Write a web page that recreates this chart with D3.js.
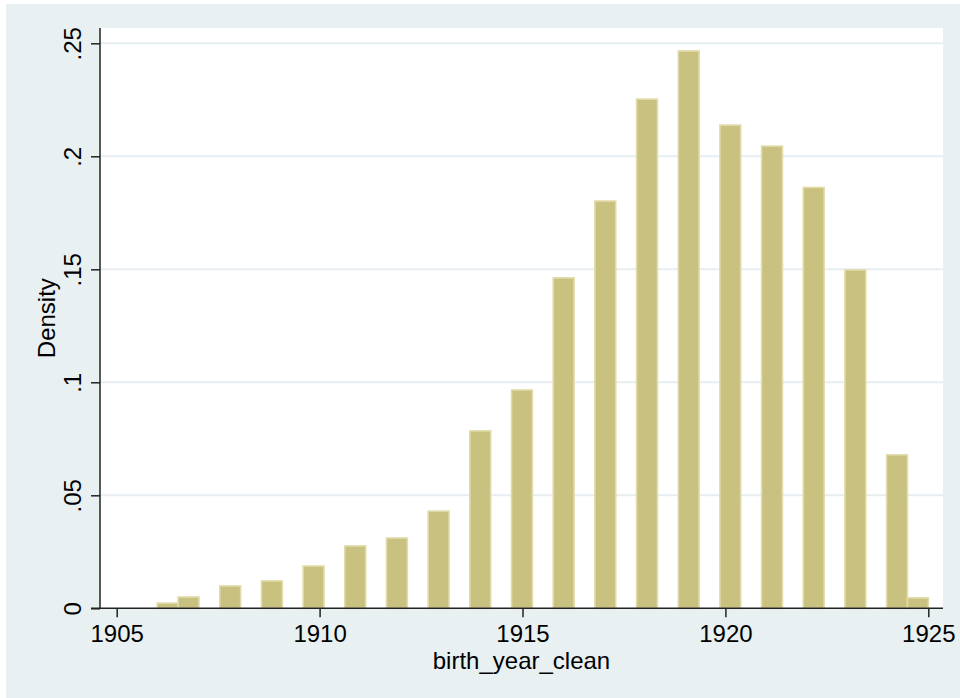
<!DOCTYPE html>
<html>
<head>
<meta charset="utf-8">
<script src="https://cdn.jsdelivr.net/npm/d3@7"></script>
<style>
  html, body { margin: 0; padding: 0; background: #ffffff; }
  svg { display: block; }
  text { font-family: "Liberation Sans", Arial, Helvetica, sans-serif; fill: #000; }
</style>
</head>
<body>
<svg id="chart" width="960" height="698"></svg>
<script>
// Birth years present in the data and the histogram density of each one's bin
const years = [1906, 1907, 1908, 1909, 1910, 1911, 1912, 1913, 1914, 1915,
               1916, 1917, 1918, 1919, 1920, 1921, 1922, 1923, 1924, 1925];
const density = [0.0023, 0.0050, 0.0099, 0.0121, 0.0187, 0.0276, 0.0311, 0.0430, 0.0785, 0.0966,
                 0.1462, 0.1802, 0.2253, 0.2466, 0.2138, 0.2045, 0.1862, 0.1497, 0.0679, 0.0046];

// Histogram bins: 37 equal-width bins spanning the observed range
const binStart = 1906;
const binEnd = 1925;
const binCount = 37;

// Axis ticks
const xTicks = [1905, 1910, 1915, 1920, 1925];
const yTicks = [0, 0.05, 0.1, 0.15, 0.2, 0.25];
const yTickLabels = ["0", ".05", ".1", ".15", ".2", ".25"];

const svg = d3.select("#chart");

const plot = { left: 100, right: 943, top: 28, bottom: 608.3 };
const fontSize = 24;

const x = d3.scaleLinear().domain([1905, 1925]).range([116.7, 928.3]);
const y = d3.scaleLinear().domain([0, 0.25]).range([608.3, 43.3]);

// Graph region background
svg.append("rect")
  .attr("x", 6).attr("y", 4)
  .attr("width", 960 - 6).attr("height", 698 - 4)
  .attr("fill", "#e8f0f2");

// Plot region
svg.append("rect")
  .attr("x", plot.left).attr("y", plot.top)
  .attr("width", plot.right - plot.left).attr("height", plot.bottom - plot.top)
  .attr("fill", "#ffffff");

// Horizontal grid lines
svg.append("g")
  .selectAll("line")
  .data(yTicks.filter(d => d > 0))
  .join("line")
  .attr("x1", plot.left).attr("x2", plot.right)
  .attr("y1", d => y(d)).attr("y2", d => y(d))
  .attr("stroke", "#e6eef1")
  .attr("stroke-width", 2);

// Bars: each year falls into one bin of the histogram
const binWidth = (binEnd - binStart) / binCount;
const bars = years.map((yr, i) => {
  const k = Math.min(binCount - 1, Math.floor((yr - binStart) / binWidth + 1e-9));
  return { x0: binStart + k * binWidth, x1: binStart + (k + 1) * binWidth, value: density[i] };
});

svg.append("g")
  .selectAll("rect")
  .data(bars)
  .join("rect")
  .attr("x", d => x(d.x0))
  .attr("width", d => x(d.x1) - x(d.x0))
  .attr("y", d => y(d.value))
  .attr("height", d => y(0) - y(d.value))
  .attr("fill", "#c9c17f")
  .attr("stroke", "#e1dbaa")
  .attr("stroke-width", 1.6);

// Y axis
const yAxis = d3.axisLeft(y)
  .tickValues(yTicks)
  .tickFormat((d, i) => yTickLabels[i])
  .tickSize(9)
  .tickPadding(9);

const gy = svg.append("g")
  .attr("transform", `translate(${plot.left},0)`)
  .call(yAxis);
gy.select(".domain").remove();
gy.append("line")
  .attr("x1", 0).attr("x2", 0)
  .attr("y1", plot.top).attr("y2", plot.bottom)
  .attr("stroke", "#222").attr("stroke-width", 1.5);
gy.selectAll(".tick line").attr("stroke", "#222").attr("stroke-width", 1.5);
gy.selectAll(".tick text")
  .attr("font-size", fontSize)
  .attr("fill", "#000")
  .attr("x", null).attr("dy", null)
  .attr("text-anchor", "middle")
  .attr("transform", "translate(-19,0) rotate(-90)");

// X axis
const xAxis = d3.axisBottom(x)
  .tickValues(xTicks)
  .tickFormat(d3.format("d"))
  .tickSize(9)
  .tickPadding(8);

const gx = svg.append("g")
  .attr("transform", `translate(0,${plot.bottom})`)
  .call(xAxis);
gx.select(".domain").remove();
gx.append("line")
  .attr("x1", plot.left - 9).attr("x2", plot.right)
  .attr("y1", 0).attr("y2", 0)
  .attr("stroke", "#222").attr("stroke-width", 1.5);
gx.selectAll(".tick line").attr("stroke", "#222").attr("stroke-width", 1.5);
gx.selectAll(".tick text")
  .attr("font-size", fontSize)
  .attr("fill", "#000");

// Axis titles
svg.append("text")
  .attr("x", (plot.left + plot.right) / 2)
  .attr("y", 669)
  .attr("text-anchor", "middle")
  .attr("font-size", fontSize)
  .text("birth_year_clean");

svg.append("text")
  .attr("transform", `translate(55,${(plot.top + plot.bottom) / 2}) rotate(-90)`)
  .attr("text-anchor", "middle")
  .attr("font-size", fontSize)
  .text("Density");
</script>
</body>
</html>
